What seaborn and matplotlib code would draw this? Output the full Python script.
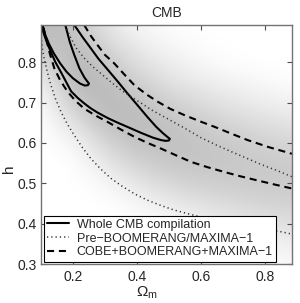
import numpy as np
import pandas as pd
import matplotlib
matplotlib.use("Agg")
import matplotlib.pyplot as plt
import seaborn as sns
from matplotlib.lines import Line2D

sns.set_theme(style="white")
plt.rcParams['font.family'] = ['Liberation Sans', 'DejaVu Sans']
plt.rcParams['mathtext.fontset'] = 'custom'
plt.rcParams['mathtext.rm'] = 'Liberation Sans'
plt.rcParams['mathtext.it'] = 'Liberation Sans'

# ---- data ----
title = "CMB"
xlabel = r"$\mathregular{\Omega_m}$"
ylabel = "h"
legend_labels = ["Whole CMB compilation", "Pre\u2212BOOMERANG/MAXIMA\u22121",
                 "COBE+BOOMERANG+MAXIMA\u22121"]
xticks = [0.2, 0.4, 0.6, 0.8]
yticks = [0.3, 0.4, 0.5, 0.6, 0.7, 0.8]

# background likelihood shading (darkness, 0 = white), grid read by eye
grid_x = [0.1, 0.2, 0.3, 0.4, 0.5, 0.6, 0.7, 0.8, 0.9]
grid_y = [0.30, 0.35, 0.40, 0.45, 0.50, 0.55, 0.60, 0.65, 0.70, 0.75, 0.80, 0.85, 0.90]
darkness = [
    [0.00, 0.00, 0.00, 0.00, 0.00, 0.00, 0.00, 0.01, 0.03],  # 0.30
    [0.00, 0.00, 0.00, 0.00, 0.00, 0.01, 0.03, 0.05, 0.07],  # 0.35
    [0.00, 0.00, 0.00, 0.00, 0.02, 0.05, 0.08, 0.11, 0.13],  # 0.40
    [0.00, 0.00, 0.00, 0.04, 0.08, 0.12, 0.15, 0.17, 0.18],  # 0.45
    [0.00, 0.00, 0.03, 0.10, 0.16, 0.19, 0.20, 0.21, 0.21],  # 0.50
    [0.00, 0.00, 0.09, 0.18, 0.22, 0.23, 0.22, 0.21, 0.20],  # 0.55
    [0.00, 0.03, 0.17, 0.24, 0.25, 0.23, 0.21, 0.18, 0.16],  # 0.60
    [0.00, 0.11, 0.25, 0.27, 0.24, 0.20, 0.16, 0.13, 0.10],  # 0.65
    [0.00, 0.21, 0.28, 0.25, 0.19, 0.14, 0.10, 0.07, 0.05],  # 0.70
    [0.04, 0.29, 0.27, 0.19, 0.12, 0.08, 0.05, 0.03, 0.01],  # 0.75
    [0.13, 0.30, 0.22, 0.13, 0.07, 0.03, 0.01, 0.00, 0.00],  # 0.80
    [0.24, 0.27, 0.16, 0.07, 0.03, 0.01, 0.00, 0.00, 0.00],  # 0.85
    [0.28, 0.24, 0.10, 0.03, 0.01, 0.00, 0.00, 0.00, 0.00],  # 0.90
]

# Whole CMB compilation: inner and outer contours
solid_inner_x = [0.176, 0.19, 0.204, 0.22, 0.235, 0.245, 0.25, 0.247, 0.237, 0.222, 0.2,
                 0.18, 0.16, 0.14, 0.125, 0.112, 0.105]
solid_inner_y = [0.892, 0.85, 0.818, 0.785, 0.763, 0.752, 0.747, 0.743, 0.742, 0.747, 0.76,
                 0.776, 0.797, 0.822, 0.845, 0.87, 0.892]
solid_outer_x = [0.204, 0.23, 0.256, 0.28, 0.308, 0.34, 0.371, 0.40, 0.433, 0.46, 0.48,
                 0.495, 0.503, 0.50, 0.49, 0.475, 0.45, 0.4125, 0.375, 0.340, 0.31, 0.277,
                 0.255, 0.235, 0.214, 0.194, 0.1625, 0.145, 0.131, 0.118, 0.108, 0.1]
solid_outer_y = [0.892, 0.862, 0.834, 0.808, 0.782, 0.752, 0.722, 0.695, 0.664, 0.640, 0.625,
                 0.615, 0.610, 0.606, 0.605, 0.607, 0.613, 0.625, 0.638, 0.650, 0.661, 0.675,
                 0.686, 0.698, 0.712, 0.728, 0.775, 0.80, 0.825, 0.85, 0.872, 0.892]

# Pre-BOOMERANG/MAXIMA-1 (dotted)
dot_upper_x = [0.175, 0.19, 0.21, 0.235, 0.26, 0.29, 0.32, 0.355, 0.39, 0.42, 0.447, 0.5,
               0.55, 0.6, 0.65, 0.69, 0.74, 0.79, 0.84, 0.885]
dot_upper_y = [0.892, 0.865, 0.835, 0.81, 0.79, 0.77, 0.75, 0.728, 0.71, 0.695, 0.681, 0.658,
               0.636, 0.613, 0.594, 0.58, 0.563, 0.546, 0.531, 0.516]
dot_lower_x = [0.1, 0.105, 0.110, 0.12, 0.131, 0.145, 0.1625, 0.182, 0.204, 0.228, 0.256,
               0.287, 0.319, 0.355, 0.392, 0.433, 0.475, 0.515, 0.558, 0.62, 0.68, 0.74,
               0.80, 0.85, 0.885]
dot_lower_y = [0.865, 0.83, 0.809, 0.775, 0.743, 0.71, 0.677, 0.647, 0.619, 0.59, 0.561,
               0.535, 0.512, 0.492, 0.474, 0.458, 0.445, 0.434, 0.425, 0.412, 0.402, 0.394,
               0.386, 0.38, 0.374]

# COBE+BOOMERANG+MAXIMA-1 (dashed)
dash_upper_x = [0.235, 0.255, 0.277, 0.30, 0.329, 0.36, 0.392, 0.43, 0.465, 0.505, 0.548,
                0.595, 0.642, 0.695, 0.746, 0.81, 0.885]
dash_upper_y = [0.892, 0.866, 0.842, 0.818, 0.797, 0.77, 0.743, 0.72, 0.702, 0.684, 0.669,
                0.654, 0.640, 0.623, 0.607, 0.59, 0.573]
dash_lower_x = [0.108, 0.116, 0.128, 0.142, 0.16, 0.183, 0.208, 0.235, 0.27, 0.308, 0.35,
                0.392, 0.433, 0.475, 0.52, 0.569, 0.62, 0.673, 0.725, 0.777, 0.83, 0.885]
dash_lower_y = [0.885, 0.859, 0.82, 0.784, 0.755, 0.727, 0.704, 0.685, 0.668, 0.652, 0.633,
                0.615, 0.60, 0.586, 0.57, 0.553, 0.54, 0.528, 0.517, 0.507, 0.497, 0.487]

xlim = (0.1, 0.885)
ylim = (0.3, 0.892)

# ---- figure ----
fig = plt.figure(figsize=(3.0, 3.03), dpi=100)
ax = fig.add_axes([41/300, (303-264)/303, 251/300, 239/303])

D = np.array(darkness)
dx = (grid_x[1]-grid_x[0]) / 2
dy = (grid_y[1]-grid_y[0]) / 2
ax.imshow(np.clip(1 - D, 0, 1), cmap='gray', vmin=0, vmax=1, origin='lower', aspect='auto',
          interpolation='bicubic',
          extent=[grid_x[0]-dx, grid_x[-1]+dx, grid_y[0]-dy, grid_y[-1]+dy], zorder=0)

solid_style = dict(color='black', lw=1.5, linestyle='-')
dot_style = dict(color='0.2', lw=1.1, linestyle=(0, (0.8, 2.0)))
dash_style = dict(color='black', lw=1.5, linestyle=(0, (3.4, 2.3)))

segments = [
    (solid_inner_x, solid_inner_y, solid_style),
    (solid_outer_x, solid_outer_y, solid_style),
    (dot_upper_x, dot_upper_y, dot_style),
    (dot_lower_x, dot_lower_y, dot_style),
    (dash_upper_x, dash_upper_y, dash_style),
    (dash_lower_x, dash_lower_y, dash_style),
]
for xs, ys, st in segments:
    df = pd.DataFrame({'x': xs, 'y': ys})
    sns.lineplot(data=df, x='x', y='y', sort=False, estimator=None, ax=ax,
                 legend=False, zorder=2, **st)

ax.set_xlim(*xlim)
ax.set_ylim(*ylim)
ax.set_xticks(xticks)
ax.set_yticks(yticks)
ax.set_xticklabels([f"{v:.1f}" for v in xticks])
ax.set_yticklabels([f"{v:.1f}" for v in yticks])
ax.tick_params(direction='in', length=3.5, width=0.8, color='0.3',
               top=True, right=True, bottom=True, left=True, labelsize=10)
ax.tick_params(axis='x', pad=4.5)
ax.tick_params(axis='y', pad=3)
for s in ax.spines.values():
    s.set_color('0.45')
    s.set_linewidth(1.0)
    s.set_visible(True)

ax.set_title(title, fontsize=10, pad=5.5)
ax.set_xlabel(xlabel, fontsize=11)
ax.set_ylabel(ylabel, fontsize=11)
ax.xaxis.set_label_coords(0.42, -0.085)
ax.yaxis.set_label_coords(-0.10, 0.40)
ax.grid(False)

handles = [Line2D([], [], **solid_style), Line2D([], [], **dot_style),
           Line2D([], [], **dash_style)]
leg = ax.legend(handles, legend_labels, loc='lower left', fontsize=9,
                frameon=True, fancybox=False, framealpha=1, edgecolor='black',
                handlelength=1.8, handletextpad=0.6, borderpad=0.25,
                labelspacing=0.15, borderaxespad=0.2)
leg.get_frame().set_linewidth(0.8)

fig.savefig("out.png", dpi=100)
